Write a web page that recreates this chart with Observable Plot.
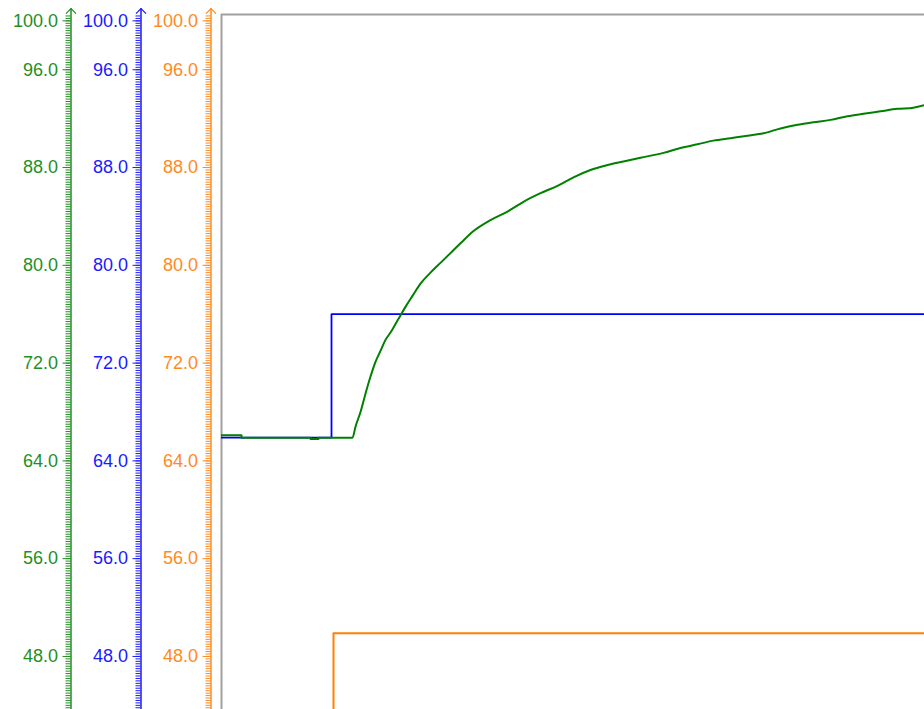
<!DOCTYPE html>
<html><head><meta charset="utf-8">
<script src="https://cdn.jsdelivr.net/npm/d3@7"></script>
<script src="https://cdn.jsdelivr.net/npm/@observablehq/plot@0.6"></script>
<style>html,body{margin:0;padding:0;background:#fff;overflow:hidden}</style>
</head><body><div id="chart"></div>
<script>
// Green (process value) trace: time (s) and value
const greenT = [0, 20, 20, 89, 89, 97, 97, 131, 134, 139, 144, 149, 154, 159, 164, 169, 174, 179, 184, 191, 199, 209, 219, 229, 239, 252, 269, 286, 302, 319, 336, 352, 369, 386, 402, 419, 442, 459, 476, 492, 509, 526, 542, 559, 576, 592, 609, 626, 642, 659, 676, 692, 703];
const greenV = [66.1, 66.1, 65.9, 65.9, 65.8, 65.8, 65.9, 65.9, 66.8, 68.0, 69.5, 70.9, 72.1, 73.0, 73.9, 74.5, 75.2, 75.9, 76.6, 77.5, 78.5, 79.4, 80.2, 81.0, 81.8, 82.8, 83.7, 84.4, 85.2, 85.9, 86.5, 87.2, 87.8, 88.2, 88.5, 88.8, 89.2, 89.6, 89.9, 90.2, 90.4, 90.6, 90.8, 91.2, 91.5, 91.7, 91.9, 92.2, 92.4, 92.6, 92.8, 92.9, 93.1];
// Blue (setpoint) trace
const blueT = [0, 110, 703];
const blueV = [65.9, 76.0, 76.0];
// Orange (output) trace
const orangeT = [0, 112, 703];
const orangeV = [40.0, 49.9, 49.9];

const majorTicks = [48, 56, 64, 72, 80, 88, 96, 100];
const minorTicks = d3.range(219, 503).map(i => i / 5);
const yDomain = [43.66, 100.52];
const xDomain = [0, 703];
const axisBottom = 43.66;
const axisTop = 101.0;

const lineGreen = "#008000", lineBlue = "#0000ff", lineOrange = "#ff8000";
const axisSpecs = [
  {dx: -150.5, color: "#1f8f1f"},
  {dx: -80.5, color: "#1a1aff"},
  {dx: -10.5, color: "#ff8a1f"}
];

const toRows = (T, V) => T.map((t, i) => ({t, v: V[i]}));
const green = toRows(greenT, greenV);
const blue = toRows(blueT, blueV);
const orange = toRows(orangeT, orangeV);

const chevron = {draw(ctx) { ctx.moveTo(-5, 5); ctx.lineTo(0, 0); ctx.lineTo(5, 5); }};

const axisMarks = axisSpecs.flatMap(a => [
  Plot.ruleX([0], {x: d => d, y1: axisBottom, y2: axisTop, dx: a.dx, stroke: a.color, strokeWidth: 1.5}),
  Plot.dot([0], {x: d => d, y: axisTop, dx: a.dx, symbol: chevron, fill: "none", stroke: a.color, strokeWidth: 1.2}),
  Plot.axisY(minorTicks, {anchor: "left", dx: a.dx, tickSize: 5, tickFormat: () => "", color: a.color, label: null}),
  Plot.axisY(majorTicks, {anchor: "left", dx: a.dx, tickSize: 8, tickPadding: 5, tickFormat: d3.format(".1f"), color: a.color, fontSize: 18, label: null})
]);

const chart = Plot.plot({
  width: 924,
  height: 709,
  marginLeft: 221,
  marginTop: 14,
  marginRight: 0,
  marginBottom: 0,
  style: {fontFamily: "'Liberation Sans', Arial, sans-serif", fontSize: "18px", background: "white"},
  x: {domain: xDomain, axis: null},
  y: {domain: yDomain, label: null},
  marks: [
    Plot.ruleX([xDomain[0]], {stroke: "#a0a0a0", strokeWidth: 2}),
    Plot.ruleY([yDomain[1]], {stroke: "#a0a0a0", strokeWidth: 2}),
    ...axisMarks,
    Plot.line(orange, {x: "t", y: "v", curve: "step-after", stroke: lineOrange, strokeWidth: 2, clip: true}),
    Plot.line(blue, {x: "t", y: "v", curve: "step-after", stroke: lineBlue, strokeWidth: 1.8, clip: true}),
    Plot.line(green, {x: "t", y: "v", curve: "monotone-x", stroke: lineGreen, strokeWidth: 2, clip: true})
  ]
});
document.getElementById("chart").appendChild(chart);
</script>
</body></html>
